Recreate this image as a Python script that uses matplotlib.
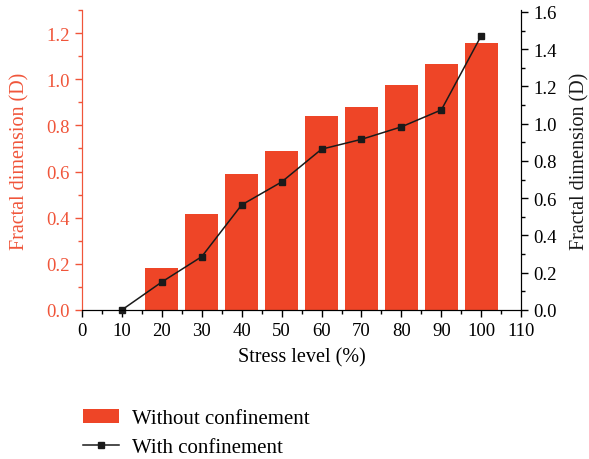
import matplotlib.pyplot as plt
from matplotlib.ticker import MultipleLocator

plt.rcParams['font.family'] = ['Liberation Serif', 'DejaVu Serif']

stress = [10, 20, 30, 40, 50, 60, 70, 80, 90, 100]
without_conf = [0.0, 0.183, 0.417, 0.590, 0.690, 0.839, 0.881, 0.974, 1.067, 1.157]
with_conf = [0.0, 0.150, 0.286, 0.564, 0.687, 0.863, 0.916, 0.983, 1.074, 1.473]

red = '#ee4527'
axis_red = '#f0553a'

fig = plt.figure(figsize=(5.89, 4.60), dpi=100)
ax = fig.add_axes([0.139, 0.324, 0.746, 0.652])
ax2 = ax.twinx()

bars = ax.bar(stress, without_conf, width=8.2, color=red, zorder=2,
              label='Without confinement')
line, = ax2.plot(stress, with_conf, color='#1a1a1a', lw=1.1, marker='s',
                 markersize=5, clip_on=False, label='With confinement')

ax.set_xlim(0, 110)
ax.set_ylim(0, 1.3)
ax2.set_ylim(0, 1.61)

ax.xaxis.set_major_locator(MultipleLocator(10))
ax.xaxis.set_minor_locator(MultipleLocator(5))
ax.yaxis.set_minor_locator(MultipleLocator(0.1))
ax2.yaxis.set_minor_locator(MultipleLocator(0.1))

for a in (ax, ax2):
    a.spines['top'].set_visible(False)
    a.tick_params(which='major', direction='out', length=5, width=1, labelsize=13.5)
    a.tick_params(which='minor', direction='out', length=3, width=1)

ax.spines['left'].set_color(axis_red)
ax2.spines['left'].set_color(axis_red)
ax.tick_params(axis='y', which='both', colors=axis_red)
ax.set_yticks([0, 0.2, 0.4, 0.6, 0.8, 1.0, 1.2])
ax2.set_yticks([0, 0.2, 0.4, 0.6, 0.8, 1.0, 1.2, 1.4, 1.6])
ax.yaxis.set_major_formatter(plt.FuncFormatter(lambda v, p: f'{v:.1f}'))
ax2.yaxis.set_major_formatter(plt.FuncFormatter(lambda v, p: f'{v:.1f}'))

ax.set_xlabel('Stress level (%)', fontsize=14.5, labelpad=6)
ax.set_ylabel('Fractal dimension (D)', fontsize=14.5, color=axis_red, labelpad=12)
ax2.set_ylabel('Fractal dimension (D)', fontsize=14.5, color='#1a1a1a', labelpad=10)

fig.legend([bars, line], ['Without confinement', 'With confinement'],
           loc='upper left', bbox_to_anchor=(0.109, 0.150), frameon=False,
           fontsize=15, handlelength=1.75, labelspacing=0.45, handletextpad=0.6)

fig.savefig('out.png', dpi=100)
